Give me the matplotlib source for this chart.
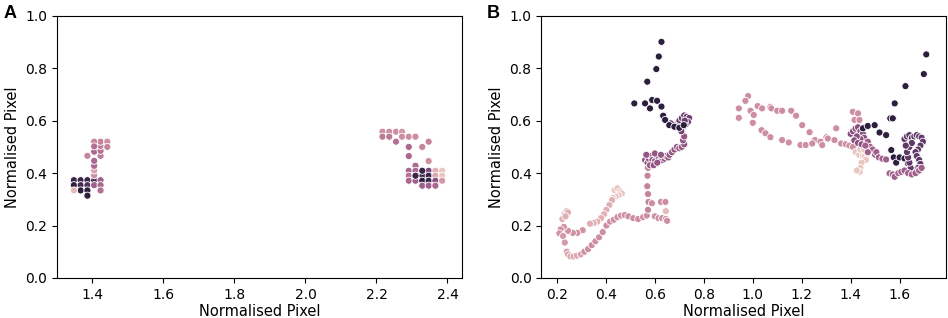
import numpy as np
import matplotlib
matplotlib.use("Agg")
import matplotlib.pyplot as plt

# ---- panel A: (x, y, hue) ----
a_x = [1.348, 1.367, 1.386, 1.405, 1.348, 1.367, 1.386, 1.367, 1.386, 1.386,
       1.348, 1.405, 1.423, 1.423, 1.423, 1.405, 1.405, 1.405, 1.405, 1.405,
       1.386, 1.423, 1.423, 1.423, 1.423, 1.405, 1.442, 1.442, 1.405,
       2.217, 2.236, 2.255, 2.272, 2.217, 2.236, 2.255, 2.272, 2.291, 2.310,
       2.291, 2.291, 2.329, 2.347, 2.347, 2.310,
       2.291, 2.310, 2.329, 2.347, 2.366, 2.385,
       2.291, 2.310, 2.329, 2.347, 2.366, 2.385,
       2.291, 2.310, 2.329, 2.347, 2.366, 2.385,
       2.329, 2.347, 2.366, 2.329, 2.310]
a_y = [0.373, 0.373, 0.373, 0.373, 0.354, 0.354, 0.354, 0.334, 0.334, 0.314,
       0.334, 0.354, 0.373, 0.354, 0.334, 0.392, 0.410, 0.428, 0.447, 0.482,
       0.466, 0.466, 0.485, 0.504, 0.520, 0.520, 0.520, 0.500, 0.502,
       0.558, 0.558, 0.558, 0.558, 0.539, 0.539, 0.520, 0.539, 0.539, 0.539,
       0.500, 0.465, 0.500, 0.520, 0.446, 0.428,
       0.409, 0.409, 0.409, 0.409, 0.409, 0.409,
       0.390, 0.390, 0.390, 0.390, 0.390, 0.390,
       0.371, 0.371, 0.371, 0.371, 0.371, 0.371,
       0.352, 0.352, 0.352, 0.409, 0.390]
a_h = [0.95, 0.95, 0.95, 0.9, 1.0, 0.9, 0.85, 1.0, 1.0, 1.0,
       0.1, 0.55, 0.55, 0.5, 0.45, 0.3, 0.2, 0.5, 0.5, 0.5,
       0.35, 0.4, 0.45, 0.4, 0.35, 0.35, 0.3, 0.35, 0.45,
       0.3, 0.3, 0.3, 0.25, 0.4, 0.4, 0.45, 0.3, 0.3, 0.3,
       0.5, 0.5, 0.35, 0.35, 0.3, 0.5,
       0.5, 0.5, 0.95, 0.7, 0.15, 0.05,
       0.45, 0.95, 0.95, 0.95, 0.2, 0.05,
       0.5, 0.55, 1.0, 0.95, 0.65, 0.25,
       0.55, 0.55, 0.5, 0.95, 0.95]

# ---- panel B: (x, y, hue) ----
b_x = [
    # light cluster and descent
    0.435, 0.447, 0.458, 0.465, 0.452, 0.440, 0.428,
    0.425, 0.414, 0.402, 0.392, 0.380, 0.365, 0.350, 0.335,
    0.305, 0.283, 0.265, 0.245, 0.228, 0.215, 0.210,
    0.222, 0.232, 0.240, 0.245, 0.235,
    0.225, 0.232, 0.240,
    # bottom curve
    0.245, 0.255, 0.268, 0.282, 0.297, 0.312, 0.327, 0.342, 0.357, 0.372,
    0.387, 0.402, 0.417, 0.432, 0.447, 0.462, 0.477, 0.492, 0.512, 0.532,
    0.552, 0.567, 0.600, 0.615, 0.630, 0.645, 0.650,
    # vertical rise
    0.572, 0.574, 0.572, 0.569, 0.570, 0.572, 0.588, 0.625, 0.643, 0.645,
    # middle cluster
    0.560, 0.570, 0.575, 0.585, 0.590, 0.600, 0.605, 0.615, 0.620, 0.630,
    0.640, 0.645, 0.655, 0.660, 0.670, 0.680, 0.690, 0.700, 0.710, 0.720,
    0.715, 0.720, 0.580, 0.595, 0.610, 0.565, 0.600, 0.625,
    # upper cluster
    0.700, 0.710, 0.720, 0.730, 0.740, 0.735, 0.725, 0.715, 0.705, 0.695,
    0.685, 0.675, 0.665, 0.722, 0.708,
    # dark tail left
    0.627, 0.616, 0.606, 0.569, 0.516, 0.560, 0.580, 0.589, 0.609, 0.627,
    0.634, 0.642, 0.659, 0.680, 0.700, 0.718,
    # upper pink loop right
    0.981, 0.970, 0.943, 0.991, 0.943, 1.004, 1.000, 1.020, 1.038, 1.072,
    1.076, 1.100, 1.120, 1.157, 1.177, 1.202, 1.232, 1.254, 1.277, 1.301,
    1.036, 1.052, 1.072, 1.120, 1.147, 1.195, 1.216, 1.243, 1.284,
    1.307, 1.334, 1.341, 1.361, 1.380, 1.395, 1.409, 1.416, 1.416, 1.409,
    1.430, 1.436,
    # lightest right
    1.420, 1.435, 1.450, 1.457, 1.470, 1.462, 1.445, 1.440, 1.437, 1.425,
    1.440, 1.455,
    # purple near 1.43
    1.400, 1.410, 1.420, 1.430, 1.440, 1.450, 1.455, 1.440, 1.425, 1.415,
    1.430, 1.445,
    # magenta
    1.470, 1.480, 1.490, 1.500, 1.505, 1.515, 1.530, 1.545, 1.470, 1.460,
    # dark right
    1.450, 1.470, 1.498, 1.518, 1.545, 1.566, 1.576, 1.586, 1.600, 1.620,
    1.634, 1.562, 1.572, 1.580, 1.624, 1.699, 1.709,
    # purple right cluster
    1.620, 1.630, 1.640, 1.650, 1.660, 1.670, 1.680, 1.690, 1.695, 1.685,
    1.675, 1.665, 1.670, 1.680, 1.685, 1.675, 1.665, 1.655, 1.645, 1.640,
    1.635, 1.630, 1.640, 1.650, 1.625,
    # magenta bottom right
    1.559, 1.572, 1.580, 1.595, 1.607, 1.620, 1.635, 1.650, 1.665, 1.680,
    1.690,
]
b_y = [
    0.335, 0.342, 0.330, 0.322, 0.315, 0.310, 0.305,
    0.297, 0.278, 0.260, 0.243, 0.228, 0.215, 0.210, 0.207,
    0.182, 0.172, 0.172, 0.180, 0.195, 0.185, 0.170,
    0.225, 0.245, 0.255, 0.250, 0.235,
    0.160, 0.135, 0.100,
    0.090, 0.082, 0.082, 0.085, 0.090, 0.100, 0.110, 0.125, 0.140, 0.155,
    0.175, 0.200, 0.215, 0.222, 0.232, 0.238, 0.240, 0.235, 0.228, 0.225,
    0.232, 0.238, 0.235, 0.228, 0.228, 0.225, 0.218,
    0.260, 0.290, 0.320, 0.350, 0.390, 0.420, 0.285, 0.290, 0.290, 0.255,
    0.450, 0.440, 0.455, 0.465, 0.450, 0.445, 0.470, 0.460, 0.445, 0.450,
    0.455, 0.465, 0.460, 0.470, 0.480, 0.490, 0.500, 0.495, 0.500, 0.510,
    0.525, 0.540, 0.430, 0.430, 0.440, 0.470, 0.475, 0.470,
    0.600, 0.610, 0.620, 0.615, 0.610, 0.595, 0.585, 0.575, 0.570, 0.575,
    0.580, 0.585, 0.590, 0.600, 0.560,
    0.901, 0.845, 0.797, 0.749, 0.666, 0.666, 0.647, 0.679, 0.676, 0.654,
    0.619, 0.603, 0.583, 0.577, 0.573, 0.583,
    0.694, 0.676, 0.647, 0.638, 0.611, 0.622, 0.592, 0.656, 0.647, 0.653,
    0.647, 0.638, 0.638, 0.638, 0.619, 0.583, 0.556, 0.526, 0.520, 0.537,
    0.564, 0.552, 0.537, 0.526, 0.517, 0.507, 0.507, 0.513, 0.507,
    0.532, 0.526, 0.571, 0.513, 0.510, 0.505, 0.500, 0.539, 0.603, 0.634,
    0.628, 0.603,
    0.480, 0.470, 0.465, 0.462, 0.475, 0.450, 0.440, 0.420, 0.405, 0.410,
    0.490, 0.490,
    0.550, 0.560, 0.570, 0.575, 0.560, 0.550, 0.535, 0.530, 0.540, 0.525,
    0.515, 0.510,
    0.520, 0.500, 0.490, 0.470, 0.480, 0.460, 0.455, 0.452, 0.480, 0.505,
    0.571, 0.580, 0.583, 0.555, 0.545, 0.488, 0.460, 0.440, 0.460, 0.456,
    0.437, 0.609, 0.609, 0.666, 0.732, 0.778, 0.853,
    0.530, 0.540, 0.545, 0.535, 0.540, 0.545, 0.540, 0.535, 0.520, 0.505,
    0.490, 0.480, 0.465, 0.450, 0.435, 0.420, 0.410, 0.405, 0.420, 0.440,
    0.460, 0.480, 0.500, 0.515, 0.505,
    0.399, 0.395, 0.386, 0.400, 0.405, 0.410, 0.400, 0.395, 0.400, 0.410,
    0.420,
]
b_h = (
    [0.05] * 7 + [0.15] * 8 + [0.28] * 7 + [0.15] * 5 + [0.25] * 3
    + [0.2] * 5 + [0.3] * 22
    + [0.35] * 6 + [0.3] * 3 + [0.1]
    + [0.6] * 28
    + [0.75] * 15
    + [1.0] * 16
    + [0.3] * 41
    + [0.05] * 12
    + [0.65] * 12
    + [0.55] * 10
    + [1.0] * 17
    + [0.8] * 25
    + [0.55] * 11
)


def cubehelix(h, start=0.0, rot=0.4, gamma=1.0, hue=0.8, light=0.85, dark=0.15):
    # seaborn's default sequential palette, written out
    x = light + (dark - light) * np.asarray(h, dtype=float)
    xg = x ** gamma
    a = hue * xg * (1 - xg) / 2
    phi = 2 * np.pi * (start / 3 + rot * x)
    r = xg + a * (-0.14861 * np.cos(phi) + 1.78277 * np.sin(phi))
    g = xg + a * (-0.29227 * np.cos(phi) - 0.90649 * np.sin(phi))
    b = xg + a * (1.97294 * np.cos(phi))
    return np.clip(np.stack([r, g, b], axis=-1), 0, 1)


fig = plt.figure(figsize=(9.48, 3.18), dpi=100)
axA = fig.add_axes([0.060, 0.126, 0.427, 0.824])
axB = fig.add_axes([0.571, 0.126, 0.427, 0.824])

axA.scatter(a_x, a_y, c=cubehelix(a_h), s=26, edgecolors="white", linewidths=0.6)
axB.scatter(b_x, b_y, c=cubehelix(b_h), s=26, edgecolors="white", linewidths=0.6)

axA.set_xlim(1.30, 2.44)
axA.set_xticks([1.4, 1.6, 1.8, 2.0, 2.2, 2.4])
axB.set_xlim(0.136, 1.79)
axB.set_xticks([0.2, 0.4, 0.6, 0.8, 1.0, 1.2, 1.4, 1.6])

for ax in (axA, axB):
    ax.set_ylim(0, 1.0)
    ax.set_yticks([0.0, 0.2, 0.4, 0.6, 0.8, 1.0])
    ax.tick_params(labelsize=10)
    ax.set_xlabel("Normalised Pixel", fontsize=10.5, labelpad=2)
    ax.set_ylabel("Normalised Pixel", fontsize=10.5, labelpad=4)

fig.text(0.004, 0.985, "A", fontsize=13, fontweight="bold", va="top",
         family="Liberation Sans")
fig.text(0.513, 0.985, "B", fontsize=13, fontweight="bold", va="top",
         family="Liberation Sans")

fig.savefig("out.png", dpi=100)
